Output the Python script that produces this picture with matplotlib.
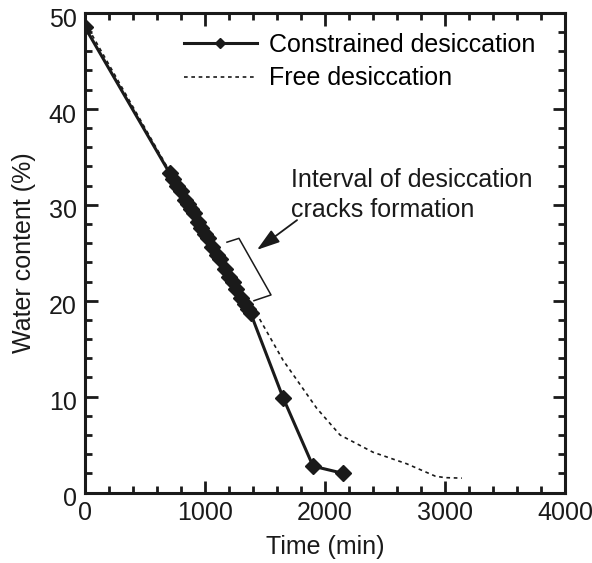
import matplotlib
matplotlib.use('Agg')
import matplotlib.pyplot as plt
import matplotlib.transforms as mtransforms
from matplotlib.ticker import MultipleLocator

plt.rcParams['font.family'] = ['Liberation Sans', 'DejaVu Sans']

# constrained desiccation (with markers)
time_con = [0, 705, 735, 770, 800, 835, 855, 880, 905, 940, 970, 1000, 1025,
            1060, 1100, 1125, 1165, 1200, 1230, 1260, 1300, 1330, 1360, 1380,
            1650, 1900, 2150]
w_con = [48.5, 33.3, 32.7, 32.0, 31.4, 30.5, 30.1, 29.6, 29.1, 28.2, 27.6, 27.0, 26.5,
         25.6, 24.8, 24.3, 23.3, 22.5, 21.9, 21.2, 20.3, 19.7, 19.1, 18.7,
         9.9, 2.75, 2.0]

# free desiccation (dotted)
time_free = [0, 700, 1380, 1450, 1650, 1930, 2125, 2400, 2680, 2920, 3000, 3140]
w_free = [49.0, 33.6, 19.0, 18.2, 13.8, 8.8, 6.0, 4.2, 3.0, 1.7, 1.55, 1.5]

# crack interval bracket
brk_t = [1183, 1283, 1550, 1408]
brk_w = [26.1, 26.5, 20.6, 20.0]

col = '#1a1a1a'
fs = 18

fig = plt.figure(figsize=(5.92, 5.63), dpi=100)
ax = fig.add_axes([0.1436, 0.1252, 0.8108, 0.8518])

ax.plot(time_free, w_free, color=col, lw=1.2, ls=(0, (2.2, 2.2)), label='Free desiccation')
ax.plot(time_con, w_con, color=col, lw=2.2, marker='D', ms=8,
        label='Constrained desiccation')
ax.plot(brk_t, brk_w, color=col, lw=1.1)

ax.annotate('', xy=(1433, 25.3), xytext=(1767, 28.4),
            arrowprops=dict(arrowstyle='-|>,head_length=1.4,head_width=0.45',
                            color=col, lw=1.3, shrinkA=0, shrinkB=0))
ax.text(1720, 33.8, 'Interval of desiccation\ncracks formation', fontsize=fs,
        color=col, va='top', ha='left', linespacing=1.3)

h, l = ax.get_legend_handles_labels()
ax.legend([h[1], h[0]], [l[1], l[0]], loc='upper left', bbox_to_anchor=(0.17, 0.995),
          frameon=False, fontsize=fs, handlelength=2.9, handletextpad=0.5,
          markerscale=0.6, labelspacing=0.38, borderaxespad=0.3)

ax.set_xlim(0, 4000)
ax.set_ylim(0, 50)
ax.xaxis.set_major_locator(MultipleLocator(1000))
ax.xaxis.set_minor_locator(MultipleLocator(200))
ax.yaxis.set_major_locator(MultipleLocator(10))
ax.yaxis.set_minor_locator(MultipleLocator(2))
ax.tick_params(which='both', direction='in', top=True, right=True, color=col,
               labelsize=fs, labelcolor=col, pad=6)
ax.tick_params(which='major', length=9, width=2.0)
ax.tick_params(which='minor', length=5, width=2.0)
for s in ax.spines.values():
    s.set_linewidth(2.2)
    s.set_color(col)

# y tick labels sit a little below their ticks in the original
shift = mtransforms.ScaledTranslation(0, -3 / 72, fig.dpi_scale_trans)
for lab in ax.get_yticklabels():
    lab.set_transform(lab.get_transform() + shift)

ax.set_xlabel('Time (min)', fontsize=fs, color=col, labelpad=7)
ax.set_ylabel('Water content (%)', fontsize=fs, color=col, labelpad=9)

fig.savefig('out.png', dpi=100)
